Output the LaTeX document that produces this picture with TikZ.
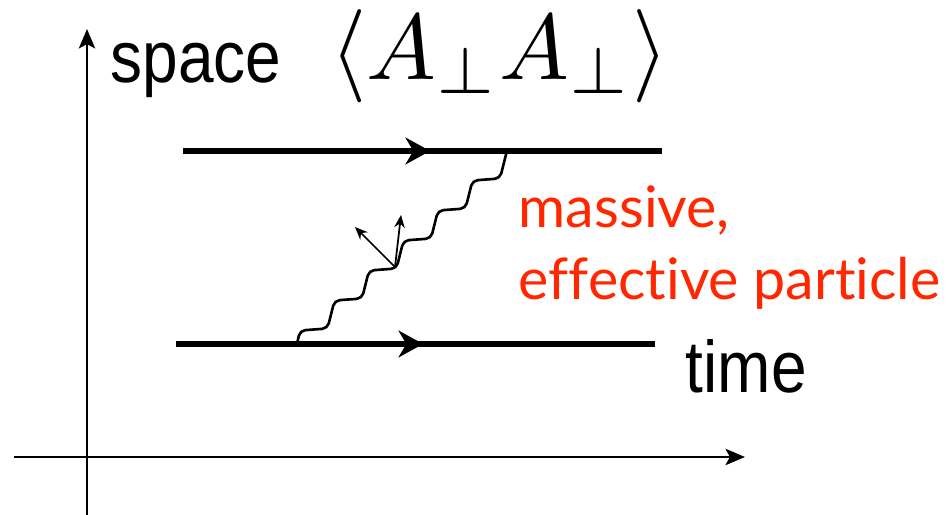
\documentclass[tikz,border=0pt]{standalone}
\usepackage{fontspec}
\usetikzlibrary{arrows.meta,decorations.markings}
\newfontfamily\helv{Liberation Sans}
\newfontfamily\gill[Ligatures=NoCommon]{Lato}
\definecolor{tagred}{RGB}{255,38,0}
\newcommand{\fermion}[2]{%
  \draw[line width=1.85pt,postaction={decorate},decoration={markings,
      mark=at position 0.516 with {\arrow{Stealth[length=7pt,width=7.6pt,inset=2.2pt]}}}] (#1)--(#2);%
}

\begin{document}
\begin{tikzpicture}[x=0.01cm,y=0.01cm,
    axis/.style={line width=0.8pt,-{Stealth[length=5.5pt,width=4.6pt,inset=1.2pt]}},
    photon/.style={line width=0.75pt,rounded corners=1.5pt},
    kick/.style={line width=0.5pt,-{Stealth[length=3.6pt,width=3pt]}}]
  \useasboundingbox (0,0) rectangle (947,515);
  \coordinate (o1) at (87,0);   \coordinate (o2) at (87,486);
  \coordinate (h1) at (14,58);  \coordinate (h2) at (745,58);
  \draw[axis] (o1)--(o2);
  \draw[axis] (h1)--(h2);
  \coordinate (t1) at (183,364); \coordinate (t2) at (662,364);
  \coordinate (b1) at (176,171); \coordinate (b2) at (655,171);
  \fermion{t1}{t2}
  \fermion{b1}{b2}
  % stairs of the exchanged field
  \coordinate (wa) at (297,171);
  \draw[photon] (wa) -- ++(3,13.5)
    \foreach \s in {1,...,6}{ -- ++(27.5,2) -- ++(7,28) };
  \coordinate (em) at (395,248);
  \coordinate (k1) at (355,288); \coordinate (k2) at (401,300);
  \draw[kick] (em)--(k1);
  \draw[kick] (em)--(k2);
  \node[anchor=base west,inner sep=0pt] (space) at (110,432)
    {\scalebox{0.875}[1]{\fontsize{20.8}{24}\selectfont\helv space}};
  \node[anchor=base west,inner sep=0pt] (corr) at (330,435)
    {\scalebox{2.65}{$\langle A_\perp A_\perp\rangle$}};
  \node[anchor=base west,inner sep=0pt] (time) at (685,122)
    {\scalebox{0.875}[1]{\fontsize{20.8}{24}\selectfont\helv time}};
  \node[anchor=base west,inner sep=0pt,text=tagred] (mass) at (518,287)
    {\fontsize{16.3}{20}\selectfont\gill massive,};
  \node[anchor=base west,inner sep=0pt,text=tagred] (eff) at (518,215)
    {\fontsize{16.3}{20}\selectfont\gill effective particle};
\end{tikzpicture}
\end{document}
